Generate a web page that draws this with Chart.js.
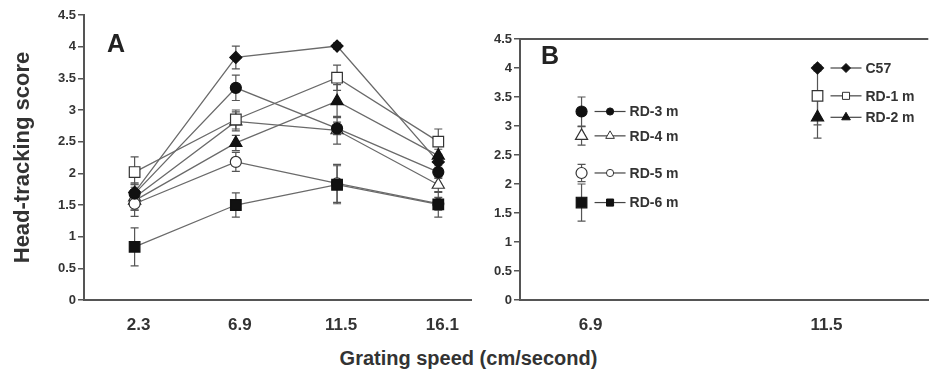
<!DOCTYPE html>
<html>
<head>
<meta charset="utf-8">
<script src="https://cdn.jsdelivr.net/npm/chart.js@4"></script>
<style>
  body { margin: 0; background: #fff; width: 937px; height: 374px; overflow: hidden; position: relative;
         font-family: "Liberation Sans", Arial, sans-serif; }
  #chartA { position: absolute; left: 0; top: 0; }
  #chartB { position: absolute; left: 480px; top: 0; }
  #xtitle { position: absolute; left: 0; width: 937px; top: 347px; text-align: center;
            font-weight: bold; font-size: 20px; color: #333; }
  .panel { position: absolute; font-weight: bold; font-size: 25px; color: #222; line-height: 25px; }
</style>
</head>
<body>
<canvas id="chartA" width="480" height="345"></canvas>
<canvas id="chartB" width="457" height="345"></canvas>
<div class="panel" style="left:107px;top:31px">A</div>
<div class="panel" style="left:541px;top:43px">B</div>
<div id="xtitle">Grating speed (cm/second)</div>
<script>
// panel A: head-tracking score by grating speed
const groups = ['C57', 'RD-1 m', 'RD-2 m', 'RD-3 m', 'RD-4 m', 'RD-5 m', 'RD-6 m'];
const speeds = [2.3, 6.9, 11.5, 16.1];
const speedLabels = ['2.3', '6.9', '11.5', '16.1'];

const c57 = [1.70, 3.83, 4.01, 2.18];
const rd1 = [2.02, 2.85, 3.51, 2.50];
const rd2 = [1.57, 2.48, 3.14, 2.28];
const rd3 = [1.68, 3.35, 2.71, 2.02];
const rd4 = [1.62, 2.82, 2.68, 1.82];
const rd5 = [1.52, 2.18, 1.84, 1.52];
const rd6 = [0.84, 1.50, 1.82, 1.51];

const c57Err = [0.15, 0.18, 0.05, 0.10];
const rd1Err = [0.24, 0.15, 0.20, 0.20];
const rd2Err = [0.15, 0.12, 0.26, 0.10];
const rd3Err = [0.15, 0.20, 0.10, 0.10];
const rd4Err = [0.20, 0.15, 0.22, 0.12];
const rd5Err = [0.20, 0.15, 0.30, 0.10];
const rd6Err = [0.30, 0.19, 0.30, 0.20];

// panel B: best speed per group
const bGroups = ['C57', 'RD-1 m', 'RD-2 m', 'RD-3 m', 'RD-4 m', 'RD-5 m', 'RD-6 m'];
const bSpeeds = [11.5, 11.5, 11.5, 6.9, 6.9, 6.9, 6.9];
const bScores = [4.00, 3.52, 3.15, 3.25, 2.83, 2.19, 1.68];
const bErrors = [0.05, 0.50, 0.36, 0.25, 0.16, 0.15, 0.32];
const bTickValues = [6.9, 11.5];
const bTickLabels = ['6.9', '11.5'];

const yTicks = [0, 0.5, 1, 1.5, 2, 2.5, 3, 3.5, 4, 4.5];

const aValues = [c57, rd1, rd2, rd3, rd4, rd5, rd6];
const aErrors = [c57Err, rd1Err, rd2Err, rd3Err, rd4Err, rd5Err, rd6Err];
// lower number is drawn on top
const drawOrder = [7, 4, 6, 2, 5, 3, 1];

const markers = [
  { style: 'rectRot', fill: true, r: 6, small: 4.5 },
  { style: 'rect', fill: false, r: 7.5, small: 5 },
  { style: 'triangle', fill: true, r: 7, small: 5 },
  { style: 'circle', fill: true, r: 5.5, small: 3.6 },
  { style: 'triangle', fill: false, r: 7, small: 5 },
  { style: 'circle', fill: false, r: 5.5, small: 3.6 },
  { style: 'rect', fill: true, r: 7.5, small: 5 }
];

const INK = '#333';
const AXIS = '#555';
const FONT = '"Liberation Sans", Arial, sans-serif';

const errorBars = {
  id: 'errorBars',
  beforeDatasetsDraw(chart) {
    const ctx = chart.ctx;
    const y = chart.scales.y;
    ctx.save();
    ctx.strokeStyle = '#555';
    ctx.lineWidth = 1.2;
    chart.data.datasets.forEach((ds, i) => {
      chart.getDatasetMeta(i).data.forEach((pt, j) => {
        const e = ds.errors[j];
        if (!e) return;
        const v = ds.data[j].y;
        const top = y.getPixelForValue(v + e);
        const bot = y.getPixelForValue(v - e);
        ctx.beginPath();
        ctx.moveTo(pt.x, top); ctx.lineTo(pt.x, bot);
        ctx.moveTo(pt.x - 4, top); ctx.lineTo(pt.x + 4, top);
        ctx.moveTo(pt.x - 4, bot); ctx.lineTo(pt.x + 4, bot);
        ctx.stroke();
      });
    });
    ctx.restore();
  }
};

const topFrame = {
  id: 'topFrame',
  afterDraw(chart) {
    const { ctx, chartArea } = chart;
    ctx.save();
    ctx.strokeStyle = AXIS;
    ctx.lineWidth = 2;
    ctx.beginPath();
    ctx.moveTo(chartArea.left, chartArea.top);
    ctx.lineTo(chartArea.right, chartArea.top);
    ctx.stroke();
    ctx.restore();
  }
};

// small key next to each point in panel B
const groupKeys = {
  id: 'groupKeys',
  afterDatasetsDraw(chart) {
    const ctx = chart.ctx;
    ctx.save();
    chart.data.datasets.forEach((ds, i) => {
      const pt = chart.getDatasetMeta(i).data[0];
      const m = markers[i];
      ctx.strokeStyle = '#444';
      ctx.lineWidth = 1.2;
      ctx.beginPath();
      ctx.moveTo(pt.x + 13, pt.y);
      ctx.lineTo(pt.x + 44, pt.y);
      ctx.stroke();
      ctx.fillStyle = m.fill ? '#111' : '#fff';
      ctx.strokeStyle = m.fill ? '#111' : '#333';
      ctx.lineWidth = 1;
      Chart.helpers.drawPoint(ctx, { pointStyle: m.style, radius: m.small, rotation: 0, borderWidth: 1 }, pt.x + 28.5, pt.y);
      ctx.fillStyle = INK;
      ctx.font = 'bold 14px ' + FONT;
      ctx.textBaseline = 'middle';
      ctx.textAlign = 'left';
      ctx.fillText(ds.label, pt.x + 48, pt.y + 1);
    });
    ctx.restore();
  }
};

function markerProps(m) {
  return {
    pointStyle: m.style,
    pointRadius: m.r,
    pointHoverRadius: m.r,
    pointBackgroundColor: m.fill ? '#111' : '#fff',
    pointBorderColor: m.fill ? '#111' : '#333',
    pointBorderWidth: 1.2
  };
}

function yScale(width) {
  return {
    min: 0,
    max: 4.5,
    afterBuildTicks: s => { s.ticks = yTicks.map(v => ({ value: v })); },
    afterFit: s => { s.width = width; },
    grid: { display: true, drawOnChartArea: false, drawTicks: true, tickLength: 6, color: AXIS, lineWidth: 1.5 },
    border: { display: true, color: AXIS, width: 2 },
    ticks: {
      color: INK,
      font: { family: FONT, size: 13, weight: 'bold' },
      padding: 2,
      callback: v => String(v)
    }
  };
}

function xScale(min, max, values, labels, shift) {
  return {
    type: 'linear',
    min: min,
    max: max,
    afterBuildTicks: s => { s.ticks = values.map(v => ({ value: v })); },
    afterFit: s => { s.height = 45; },
    grid: { display: false, drawTicks: false },
    border: { display: true, color: AXIS, width: 2 },
    ticks: {
      color: INK,
      font: { family: FONT, size: 17, weight: 'bold' },
      padding: 15,
      labelOffset: shift,
      maxRotation: 0,
      callback: v => labels[values.indexOf(v)]
    }
  };
}

new Chart(document.getElementById('chartA'), {
  type: 'line',
  data: {
    datasets: groups.map((g, i) => Object.assign({
      label: g,
      data: speeds.map((s, k) => ({ x: s, y: aValues[i][k] })),
      errors: aErrors[i],
      order: drawOrder[i],
      borderColor: '#6a6a6a',
      borderWidth: 1.3,
      fill: false,
      tension: 0
    }, markerProps(markers[i])))
  },
  options: {
    responsive: false,
    animation: false,
    layout: { padding: { left: 0, right: 3, top: 15, bottom: 0 } },
    scales: {
      x: xScale(0, 17.6, speeds, speedLabels, 4),
      y: Object.assign(yScale(84), {
        title: {
          display: true,
          text: 'Head-tracking score',
          color: INK,
          font: { family: FONT, size: 22, weight: 'bold' },
          padding: { top: 10, bottom: 0 }
        }
      })
    },
    plugins: {
      legend: { display: false },
      tooltip: { enabled: false }
    }
  },
  plugins: [errorBars]
});

new Chart(document.getElementById('chartB'), {
  type: 'line',
  data: {
    datasets: bGroups.map((g, i) => Object.assign({
      label: g,
      data: [{ x: bSpeeds[i], y: bScores[i] }],
      errors: [bErrors[i]],
      showLine: false
    }, markerProps(markers[i])))
  },
  options: {
    responsive: false,
    animation: false,
    layout: { padding: { left: 0, right: 0, top: 39, bottom: 0 } },
    scales: {
      x: xScale(5.7, 13.66, bTickValues, bTickLabels, 9),
      y: yScale(40)
    },
    plugins: {
      legend: { display: false },
      tooltip: { enabled: false }
    }
  },
  plugins: [errorBars, topFrame, groupKeys]
});
</script>
</body>
</html>
